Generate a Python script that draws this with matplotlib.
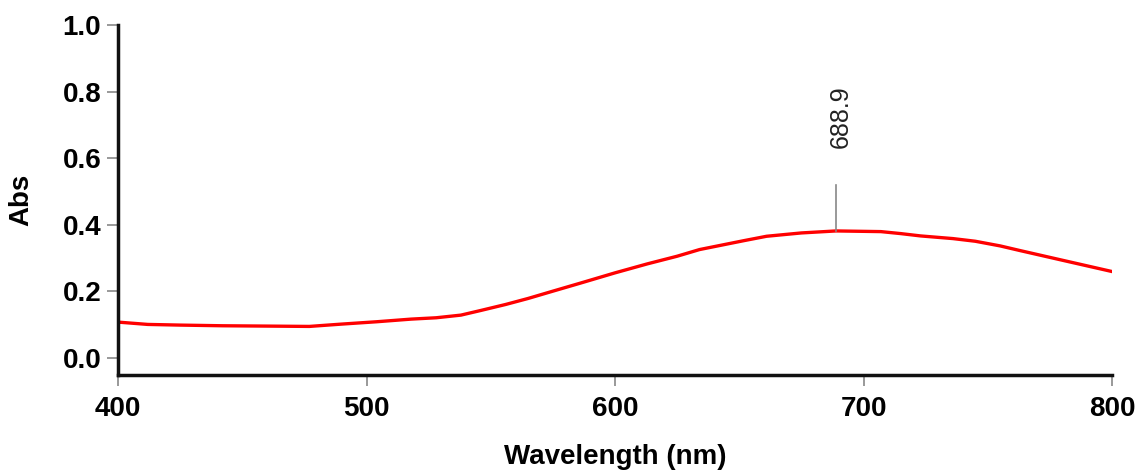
import matplotlib
matplotlib.use("Agg")
import matplotlib.pyplot as plt
import numpy as np

# 数据
wavelength = [400, 412, 425, 442, 460, 477, 490, 504, 518, 528, 538, 546,
              556, 565, 575, 586, 600, 613, 625, 634, 642, 652, 661, 675,
              689, 707, 715, 723, 736, 745, 755, 763, 780, 800]
absorb = [0.107, 0.100, 0.098, 0.096, 0.095, 0.094, 0.101, 0.108, 0.116,
          0.120, 0.128, 0.142, 0.160, 0.178, 0.200, 0.224, 0.255, 0.282,
          0.305, 0.325, 0.337, 0.352, 0.365, 0.375, 0.381, 0.379, 0.373,
          0.366, 0.358, 0.350, 0.336, 0.322, 0.293, 0.259]
peak_x = 688.9
peak_y = 0.381
peak_label = "688.9"
xticks = [400, 500, 600, 700, 800]
yticks = [0.0, 0.2, 0.4, 0.6, 0.8, 1.0]

plt.rcParams['font.family'] = ['Liberation Sans', 'DejaVu Sans']

fig = plt.figure(figsize=(11.46, 4.76), dpi=100)
ax = fig.add_axes([118 / 1146, 1 - 375 / 476, 994 / 1146, 350 / 476])

ax.plot(wavelength, absorb, color='#ff0000', linewidth=2.4)

# 峰值标注
ax.plot([peak_x, peak_x], [peak_y, 0.52], color='#888888', linewidth=1.2)
ax.text(peak_x + 2, 0.63, peak_label, rotation=90, ha='center', va='bottom',
        fontsize=18, color='#222222')

ax.set_xlim(400, 800)
ax.set_ylim(-0.052, 1.0)
ax.set_xticks(xticks)
ax.set_yticks(yticks)
ax.set_xticklabels([str(t) for t in xticks], fontsize=20, fontweight='bold')
ax.set_yticklabels(["%.1f" % t for t in yticks], fontsize=20, fontweight='bold')
ax.tick_params(axis='x', pad=7)
ax.tick_params(axis='y', pad=4)
ax.tick_params(axis='both', direction='out', length=8, width=1.2,
               color='#888888')

for s in ['top', 'right']:
    ax.spines[s].set_visible(False)
for s in ['left', 'bottom']:
    ax.spines[s].set_linewidth(2.5)
    ax.spines[s].set_color('#111111')

ax.set_xlabel("Wavelength (nm)", fontsize=20, fontweight='bold', labelpad=16)
ax.set_ylabel("Abs", fontsize=20, fontweight='bold', labelpad=20)

fig.savefig("out.png", dpi=100)
